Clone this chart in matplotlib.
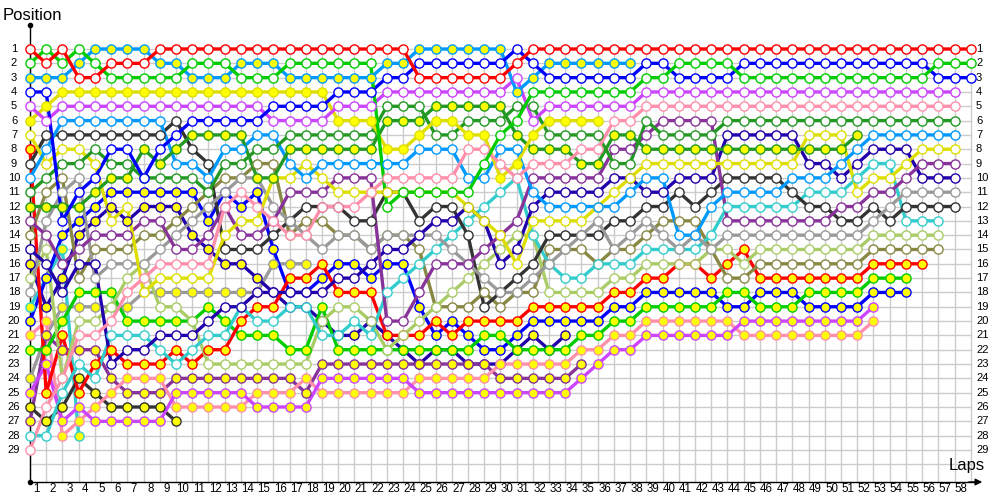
import matplotlib
matplotlib.use("Agg")
import matplotlib.pyplot as plt

# ---------------- data (position per lap, index = lap, lap 0 = grid) ----------------
red_h = [1,2,1,3,3,2,2,2,1,1,1,1,1,1,1,1,1,1,1,1,1,1,1,1,3,3,3,3,3,3,2,1,1,1,1,1,1,1,1,1,1,1,1,1,1,1,1,1,1,1,1,1,1,1,1,1,1,1,1]
green_h = [2,1,2,1,2,3,3,3,3,3,2,2,2,3,3,3,2,2,2,2,2,2,12,11,11,11,11,11,9,7,6,4,4,4,4,4,4,4,3,3,2,2,2,2,3,3,3,3,3,3,3,3,3,3,3,3,2,2,2]
blue_h = [4,4,13,11,10,8,8,10,8,7,6,6,6,6,6,5,5,5,5,4,4,4,3,3,2,2,2,2,2,2,1,2,3,3,3,3,3,3,2,2,3,3,3,3,2,2,2,2,2,2,2,2,2,2,2,2,3,3,3]
violet_h = [5,6,5,5,5,5,5,5,5,5,5,5,5,5,5,6,6,6,6,5,5,5,4,4,4,4,4,4,4,4,3,6,5,5,5,5,5,5,4,4,4,4,4,4,4,4,4,4,4,4,4,4,4,4,4,4,4,4]
pink_h = [29,26,24,21,21,20,18,17,16,16,16,16,12,11,12,13,14,14,12,12,12,11,10,10,10,10,10,8,8,9,10,9,9,9,8,8,6,6,5,5,5,5,5,5,5,5,5,5,5,5,5,5,5,5,5,5,5,5]
dkgreen_h = [11,10,9,9,8,9,9,10,10,10,10,11,9,9,8,8,7,7,7,7,7,7,5,5,5,7,7,6,6,6,5,5,7,7,7,7,9,9,6,7,7,7,7,6,6,6,6,6,6,6,6,6,6,6,6,6,6,6]
ltblue_h = [10,8,6,6,6,6,6,6,6,9,9,10,8,8,7,7,9,10,9,9,9,9,9,9,8,8,8,10,10,8,8,11,12,12,12,12,12,11,10,10,14,14,12,11,11,11,11,10,10,10,9,8,7,7,7,7,7,7]
yellow_h = [7,9,8,8,9,13,12,18,17,17,17,17,14,13,13,10,10,9,10,11,11,11,11,11,11,11,11,12,13,14,16,13,13,13,13,12,11,10,9,9,9,9,9,9,9,9,9,9,7,7,7,11,10,10,9,8,8,8]
purple_h = [13,14,16,15,14,14,14,13,13,15,15,14,12,14,14,13,11,11,11,10,10,10,20,20,18,16,16,16,15,14,13,10,10,10,10,10,8,8,7,6,6,6,6,13,13,13,13,13,13,13,12,12,11,11,10,9,9,9]
navy_h = [15,16,18,16,16,23,22,22,21,21,21,20,19,19,18,18,18,18,18,17,17,16,15,15,14,13,13,12,13,16,15,12,11,11,11,11,10,10,11,11,10,10,10,7,7,7,7,7,9,9,10,9,8,8,8,10,10,10]
gray_h = [18,13,11,10,17,16,16,16,15,14,13,12,11,10,10,12,13,14,15,14,14,15,14,14,14,14,15,16,17,18,18,17,16,15,14,13,15,14,13,14,15,14,15,14,14,14,14,14,14,14,14,14,13,12,11,11,11,11]
black_h = [9,7,7,7,7,7,7,7,7,6,8,9,15,15,15,14,13,12,12,12,13,13,11,11,13,12,12,14,19,18,17,16,14,14,14,14,13,13,12,12,11,12,11,10,10,10,10,11,12,12,13,13,12,13,12,12,12,12]
teal_h = [28,28,25,23,24,21,21,21,22,23,22,21,21,19,20,20,19,19,21,21,20,21,18,17,16,15,14,13,12,11,10,14,16,17,17,16,16,16,15,15,15,15,14,12,12,12,12,12,11,11,11,10,9,9,13,13,13]
ltgreen_h = [17,15,24,20,20,19,17,16,19,19,20,23,23,23,23,23,23,23,20,19,19,20,22,21,20,19,18,17,16,15,14,14,18,18,18,18,17,17,16,16,16,16,15,15,16,15,15,15,15,15,15,15,14,14,14,14,14]
olive_h = [14,11,10,17,15,15,15,14,14,13,12,11,10,10,9,9,14,13,13,14,14,15,14,14,15,19,19,19,18,19,18,18,15,15,15,16,15,15,14,13,13,13,15,17,17,16,16,16,16,16,16,16,15,15,15,15,15]
red_f = [8,25,21,25,23,22,23,23,23,22,23,22,22,20,19,19,17,17,16,18,18,18,21,21,21,20,21,20,20,20,20,19,19,19,19,19,18,18,17,17,16,16,17,16,15,17,17,17,17,17,17,17,16,16,16,16]
green_f = [22,22,20,18,18,18,20,20,20,20,20,19,20,21,21,21,22,22,19,22,22,22,22,22,22,22,22,22,21,21,22,22,22,22,21,21,20,20,19,19,19,19,19,18,18,19,19,19,18,18,18,18,17,17,17]
blue_f = [20,17,14,13,12,11,11,11,11,11,11,13,11,12,11,15,18,18,17,16,16,17,16,16,19,21,20,21,22,22,21,20,20,20,20,20,19,19,18,18,18,18,18,19,19,18,18,18,19,19,19,19,18,18,18]
violet_f = [25,23,27,26,27,27,27,27,27,25,25,25,25,25,26,26,26,26,24,24,24,24,24,24,25,25,25,25,25,25,25,25,25,25,24,23,22,22,21,21,21,21,21,21,20,20,20,20,20,20,20,20,19]
pink_f = [21,20,28,27,26,25,24,24,24,26,26,26,26,26,25,25,25,24,25,25,25,25,25,25,24,24,24,24,24,23,23,23,23,23,22,22,21,21,20,20,20,20,20,20,21,21,21,21,21,21,21,21,20]
ltblue_f = [3,3,3,2,1,1,1,1,2,2,3,3,3,2,2,2,3,3,3,3,3,3,2,2,1,1,1,1,1,1,4,3,2,2,2,2,2,2]
yellow_f = [6,5,4,4,4,4,4,4,4,4,4,4,4,4,4,4,4,4,4,6,6,6,8,8,7,6,6,7,7,10,9,7,6,6,6,6]
dkgreen_f = [12,12,12,12,11,10,10,8,9,8,7,7,7,7,10,10,8,8,8,8,8,8,6,6,6,5,5,5,5,5,7,8,8,8,9,9,7,7,8,8,8,8,8,8,8,8,8,8,8,8,8,7]
purple_f = [27,21,22,22,22,24,25,25,25,24,24,24,24,24,24,24,24,25,23,23,23,23,23,23,23,23,23,23,23,24,24,24,24,24,23]
navy_f = [16,19,17,14,13,12,13,12,12,12,14,15,16,16,17,18,19,19,20,21,21,20,21,22,23,22,22,23,23,23,22,21,22,21]
gray_f = [24,21,19,19,19,19,19,18,18,18,18,18,18,18,18,16,16,16]
black_f = [26,27,26,24,25,26,26,26,26,27]
teal_f = [19,17,15,28]

lap_labels = [str(k) for k in range(1, 59)]
pos_labels = [str(k) for k in range(1, 30)]

# ---------------- styling ----------------
C = {
    'red': '#ff0000', 'green': '#00cc00', 'ltblue': '#0099ff', 'blue': '#0000ff',
    'yellow': '#dede00', 'violet': '#cc44ff', 'pink': '#ff8fab', 'dkgreen': '#229922',
    'navy': '#2200aa', 'black': '#333333', 'olive': '#888844', 'gray': '#9a9a9a',
    'purple': '#883399', 'teal': '#33cccc', 'ltgreen': '#aacc66',
}

# drawing order: back to front
drivers = [
    (teal_f, 'teal', True), (black_f, 'black', True), (gray_f, 'gray', True),
    (navy_f, 'navy', True), (purple_f, 'purple', True),
    (pink_f, 'pink', True), (violet_f, 'violet', True), (blue_f, 'blue', True),
    (green_f, 'green', True), (red_f, 'red', True),
    (olive_h, 'olive', False), (ltgreen_h, 'ltgreen', False), (teal_h, 'teal', False),
    (black_h, 'black', False), (gray_h, 'gray', False), (navy_h, 'navy', False),
    (purple_h, 'purple', False), (yellow_h, 'yellow', False), (ltblue_h, 'ltblue', False),
    (dkgreen_f, 'dkgreen', True), (dkgreen_h, 'dkgreen', False), (yellow_f, 'yellow', True),
    (pink_h, 'pink', False), (violet_h, 'violet', False), (ltblue_f, 'ltblue', True),
    (blue_h, 'blue', False), (green_h, 'green', False), (red_h, 'red', False),
]

W, H = 1000, 500
X0, DX = 30.0, 16.22      # pixel x of lap 0, px per lap
Y0, DY = 49.0, 14.32      # pixel y of position 1, px per position

fig = plt.figure(figsize=(10, 5), dpi=100)
ax = fig.add_axes([0, 0, 1, 1])
ax.set_xlim(-X0 / DX, (W - X0) / DX)
ax.set_ylim(1 + (H - Y0) / DY, 1 - Y0 / DY)
ax.axis('off')

grid_c = '#cccccc'
n_laps = 58
y_axis_bottom = 1 + (482 - Y0) / DY
y_axis_top = 1 + (25 - Y0) / DY
for L in range(0, n_laps + 1):
    ax.plot([L, L], [1, y_axis_bottom], color=grid_c, lw=1, zorder=1)
for p in range(1, 31):
    ax.plot([0, n_laps], [p, p], color=grid_c, lw=1, zorder=1)

# axes lines with arrows
ax.plot([0, 0], [y_axis_bottom, y_axis_top], color='black', lw=1, zorder=2)
ax.plot([0, (978 - X0) / DX], [y_axis_bottom, y_axis_bottom], color='black', lw=1, zorder=2)
ax.plot([0], [y_axis_top], marker='o', ms=3, color='black', zorder=2)
ax.plot([0], [y_axis_bottom], marker='o', ms=3, color='black', zorder=2)
ax.annotate('', xy=((985 - X0) / DX, y_axis_bottom), xytext=((966 - X0) / DX, y_axis_bottom),
            arrowprops=dict(arrowstyle='-|>', color='black', lw=1, mutation_scale=10), zorder=2)

font = 'Liberation Sans'
ax.text(-X0 / DX + 3 / DX, 1 + (15 - Y0) / DY, 'Position', fontsize=12, family=font,
        ha='left', va='center')
ax.text((985 - X0) / DX, 1 + (465 - Y0) / DY, 'Laps', fontsize=12, family=font,
        ha='right', va='center')

for i, lab in enumerate(pos_labels):
    p = i + 1
    ax.text((14 - X0) / DX, p, lab, fontsize=8, family=font, ha='center', va='center')
    ax.text((976 - X0) / DX, p, lab, fontsize=8, family=font, ha='left', va='center')
for i, lab in enumerate(lap_labels):
    k = i + 1
    ax.text(k - 1 + 0.42, 1 + (489 - Y0) / DY, lab, fontsize=8.3, family=font,
            ha='center', va='center')

# lines first, then markers on top of all lines
z = 3
for pos, cname, filled in drivers:
    laps = list(range(len(pos)))
    ax.plot(laps, pos, color=C[cname], lw=2.4, zorder=z, solid_capstyle='round')
    z += 0.01
z = 10
for pos, cname, filled in drivers:
    laps = list(range(len(pos)))
    col = C[cname]
    ax.plot(laps, pos, linestyle='none', marker='o', ms=6.6, mew=1.0,
            mec=col, mfc='#ffff00' if filled else 'white', zorder=z)
    z += 0.01

fig.savefig('out.png', dpi=100)
